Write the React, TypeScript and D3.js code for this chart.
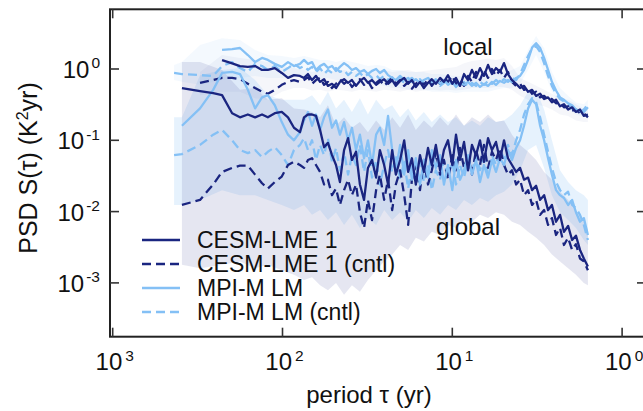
import React from "react";
import * as d3 from "d3";

// period grid (yr)
const periods = [
  435, 391, 306, 256, 227, 198, 178, 160, 145, 132, 122, 111, 101, 92.8, 85.6, 78.9,
  74.7, 70.8, 67.0, 63.5, 60.1, 56.9, 54.0, 51.1, 48.4, 45.9,
  43.4, 41.1, 39.0, 36.9, 35.0, 33.1, 31.4, 29.7, 28.1, 26.7,
  25.2, 23.9, 22.6, 21.5, 20.3, 19.2, 18.2, 17.3, 16.4, 15.5,
  14.7, 13.9, 13.2, 12.5, 11.8, 11.2, 10.6, 10.0, 9.51, 9.01,
  8.53, 8.08, 7.66, 7.25, 6.87, 6.51, 6.16, 5.84, 5.53, 5.24,
  4.96, 4.70, 4.45, 4.21, 3.99, 3.78, 3.58, 3.39, 3.21, 3.04,
  2.88, 2.73, 2.59, 2.45, 2.32, 2.20, 2.08, 1.97, 1.87, 1.77,
  1.68, 1.59,
];

const cesmLocal = [
  null, null, null, null, 1.33, 1.2, 1.1, 1.07, 1.1, 0.97, 0.97, 1.03, 0.88, 0.75, 0.82, 0.8,
  .75, .85, .70, .80, .66, .72, .58, .62, .54, .66,
  .72, .64, .70, .58, .68, .75, .64, .70, .60, .66,
  .72, .62, .70, .58, .68, .75, .62, .70, .56, .66,
  .54, .64, .72, .62, .75, .66, .82, .62, .75, .58,
  .85, .70, .97, .75, 1.03, .80, 1.14, .85, 1.03, .91,
  1.21, .85, .70, .62, .54, .58, .48, .51, .42, .45,
  .38, .40, .34, .37, .30, .32, .27, .29, .25, .27,
  .22, .23,
];

const cesmLocalCntl = [
  null, null, .64, .70, .75, .75, .72, .62, .54, .48, .45, .51, .60, .66, .70, .66,
  .70, .77, .62, .70, .75, .60, .66, .54, .62, .72,
  .62, .68, .56, .64, .72, .60, .68, .54, .64, .70,
  .58, .66, .75, .62, .70, .58, .66, .53, .62, .70,
  .60, .72, .58, .70, .62, .77, .66, .80, .62, .72,
  .58, .80, .66, .91, .70, .97, .75, 1.0, .80, .97,
  .75, .91, .66, .58, .62, .51, .54, .45, .48, .40,
  .42, .37, .38, .33, .34, .29, .30, .26, .27, .24,
  .24, .21,
];

const mpiLocal = [
  null, null, null, null, 1.85, 1.9, 1.97, 1.57, 1.25, 1.43, 1.34, 1.18, 1.07, 1.25, 1.10, 1.18,
  1.34, 1.18, 1.25, .97, 1.10, 1.18, 1.03, 1.10, .94, 1.07,
  1.21, 1.10, .97, 1.03, .91, .97, .85, .94, 1.0, .88,
  .97, .82, .75, .70, .80, .70, .75, .66, .72, .64,
  .70, .75, .66, .72, .62, .70, .60, .66, .56, .64,
  .60, .66, .58, .64, .56, .62, .58, .66, .60, .68,
  .64, .70, .66, .75, .80, .97, 1.34, 2.0, 2.3, 1.97,
  1.43, .97, .66, .50, .40, .37, .33, .31, .27, .26,
  .25, .29,
];

const mpiLocalCntl = [
  .88, .85, .82, .80, 1.10, 1.25, 1.03, .91, 1.18, 1.10, .97, 1.10, .91, 1.03, 1.18, 1.03,
  1.10, .97, 1.07, .91, 1.03, .85, .97, .88, 1.03, .91,
  .97, .82, .91, .80, .88, .77, .85, .75, .82, .72,
  .80, .70, .77, .66, .72, .64, .70, .75, .66, .72,
  .62, .68, .60, .66, .58, .64, .70, .62, .68, .58,
  .66, .56, .64, .58, .66, .60, .68, .62, .70, .64,
  .72, .66, .75, .70, .85, 1.14, 1.52, 1.97, 2.1, 1.73,
  1.21, .80, .58, .45, .38, .35, .32, .28, .27, .25,
  .27, .32,
];

const cesmGlobal = [
  null, .54, .49, .46, .43, .24, .21, .23, .21, .23, .21, .24, .25, .21, .15, .13,
  .21, .23, .23, .22, .14, .080, .092, .062, .045, .026,
  .073, .107, .053, .069, .024, .0146, .041, .053, .030, .073,
  .045, .024, .073, .033, .053, .10, .036, .056, .024, .062,
  .036, .078, .045, .086, .038, .073, .10, .045, .12, .053,
  .095, .038, .086, .062, .10, .050, .107, .073, .095, .053,
  .10, .056, .045, .036, .041, .028, .030, .020, .023, .0146,
  .017, .0105, .0124, .0072, .009, .0052, .0063, .004, .0046, .0029,
  .0022, .0017,
];

const cesmGlobalCntl = [
  null, .0124, .0146, .024, .036, .041, .044, .044, .033, .025, .021, .026, .031, .045, .050, .045,
  .041, .053, .056, .045, .036, .024, .028, .017, .021, .0124,
  .020, .028, .017, .024, .0098, .0059, .0146, .0076, .020, .033,
  .0146, .028, .0105, .024, .038, .017, .0065, .028, .045, .020,
  .053, .024, .038, .069, .033, .053, .028, .062, .038, .078,
  .041, .062, .033, .073, .045, .086, .041, .069, .053, .078,
  .045, .033, .038, .024, .028, .017, .020, .0124, .0146, .009,
  .0105, .0065, .0081, .0047, .0059, .0034, .0043, .0029, .0035, .0022,
  .0020, .0015,
];

const mpiGlobal = [
  null, .16, .28, .51, .88, .91, .85, .51, .28, .40, .43, .31, .18, .12, .10, .13,
  .19, .25, .16, .23, .14, .21, .27, .15, .19, .12,
  .18, .10, .15, .073, .12, .056, .10, .045, .12, .15,
  .086, .22, .073, .038, .086, .033, .073, .028, .056, .024,
  .053, .030, .073, .041, .062, .024, .045, .020, .053, .028,
  .038, .062, .033, .053, .026, .045, .030, .053, .036, .056,
  .045, .073, .053, .078, .10, .16, .28, .37, .32, .16,
  .10, .056, .033, .020, .017, .0155, .0124, .0146, .0098, .0072,
  .0081, .0047,
];

const mpiGlobalCntl = [
  .062, .064, .086, .12, .14, .10, .073, .066, .073, .058, .069, .080, .062, .045, .073, .086,
  .107, .073, .10, .053, .086, .062, .107, .050, .078, .038,
  .069, .033, .062, .045, .086, .036, .073, .030, .053, .024,
  .045, .073, .036, .062, .028, .050, .021, .045, .030, .056,
  .026, .045, .020, .038, .028, .053, .030, .050, .024, .045,
  .030, .053, .036, .062, .038, .056, .033, .062, .045, .073,
  .056, .086, .062, .10, .14, .23, .32, .39, .34, .21,
  .12, .069, .041, .026, .020, .017, .019, .0124, .0112, .009,
  .0065, .004,
];

// ensemble spread bands
const bandPeriods = [
  435, 391, 306, 227, 178, 145, 122, 101, 85.6,
  74.7, 67.0, 60.1, 54.0, 48.4, 43.4, 39.0, 35.0, 31.4, 28.1,
  25.2, 22.6, 20.3, 18.2, 16.4, 14.7, 13.2, 11.8, 10.6, 9.51,
  8.53, 7.66, 6.87, 6.16, 5.53, 4.96, 4.45, 3.99, 3.58, 3.21,
  2.88, 2.59, 2.32, 2.08, 1.87, 1.68, 1.59,
];

const cesmGlobalBandHi = [
  null, 1.25, 1.25, .97, .51, .54, .37, .39, .28,
  .27, .25, .21, .31, .16, .21, .15, .18, .13, .19,
  .14, .21, .15, .23, .14, .19, .15, .21, .16, .23,
  .16, .21, .18, .23, .18, .19, .12, .086, .069, .053,
  .036, .028, .019, .0146, .0105, .0072, .0055,
];
const cesmGlobalBandLo = [
  null, .0018, .0016, .0018, .0020, .0016, .0018, .0015, .0013,
  .0011, .0012, .00093, .00079, .0010, .00068, .00093, .00075, .0011, .0015,
  .0020, .0025, .0034, .0029, .0043, .0038, .0052, .0047, .0065, .0059,
  .0076, .0072, .009, .0081, .0098, .009, .0072, .0065, .0052, .0043,
  .0034, .0025, .0020, .0016, .0013, .0010, .00093,
];

const mpiGlobalBandHi = [
  .21, .21, .82, .97, 1.03, .70, .43, .37, .37,
  .37, .43, .31, .48, .28, .37, .25, .39, .23, .37,
  .27, .31, .21, .28, .19, .25, .18, .23, .18, .21,
  .16, .19, .16, .21, .18, .19, .23, .31, .48, .51,
  .27, .10, .038, .026, .020, .017, .0146,
];
const mpiGlobalBandLo = [
  .0124, .0124, .0146, .020, .017, .017, .0146, .0124, .0105,
  .0124, .009, .0105, .0076, .0098, .0065, .009, .0059, .0081, .0065,
  .0105, .0076, .0098, .0072, .0105, .0081, .0112, .009, .0124, .0105,
  .0146, .0124, .0155, .0137, .017, .019, .024, .038, .073, .086,
  .041, .017, .0098, .0076, .0059, .0040, .0034,
];

const mpiLocalBandHi = [
  1.14, 1.25, 2.17, 2.7, 2.55, 1.85, 1.57, 1.52, 1.43,
  1.52, 1.43, 1.34, 1.34, 1.25, 1.34, 1.25, 1.18, 1.10, 1.14,
  1.10, .97, .97, .91, .91, .91, .85, .85, .82, .80,
  .80, .80, .80, .80, .85, .91, .97, 1.10, 1.85, 2.9,
  1.97, .91, .54, .42, .34, .32, .37,
];
const mpiLocalBandLo = [
  .70, .66, .60, .70, .75, .80, .75, .75, .80,
  .80, .75, .70, .75, .70, .70, .66, .66, .62, .62,
  .58, .54, .54, .51, .51, .51, .48, .48, .48, .46,
  .48, .48, .48, .48, .51, .54, .54, .62, .97, 1.57,
  .91, .48, .32, .27, .23, .21, .23,
];

const cesmLocalBandHi = [
  null, null, .91, 1.57, 1.43, 1.34, 1.25, 1.10, 1.03,
  .97, .91, .97, .91, .94, .97, .91, .97, .91, .94,
  .97, .91, .94, .97, .91, .94, .97, 1.0, 1.03, 1.07,
  1.2, 1.3, 1.34, 1.4, 1.34, 1.43, 1.1, .75, .66, .58,
  .51, .45, .39, .37, .32, .28, .28,
];
const cesmLocalBandLo = [
  null, null, .43, .48, .48, .39, .37, .48, .54,
  .54, .50, .51, .48, .51, .50, .48, .51, .50, .48,
  .51, .50, .48, .51, .48, .50, .51, .50, .51, .50,
  .51, .54, .54, .54, .56, .56, .51, .42, .37, .32,
  .30, .27, .23, .22, .19, .18, .18,
];

const xTickExps = [3, 2, 1, 0];
const yTickExps = [0, -1, -2, -3];
const legendLabels = ["CESM-LME 1", "CESM-LME 1 (cntl)", "MPI-M LM", "MPI-M LM (cntl)"];
const regionLabels = ["local", "global"];

const DARK = "#1a2580";
const LIGHT = "#84c0f5";
const FONT = "'Liberation Sans', Arial, sans-serif";

const W = 643;
const H = 411;
const L = 110;
const R = 646;
const T = 9.3;
const B = 336.7;

export default function App() {
  const x = d3.scaleLog().domain([Math.pow(10, 3.0159), Math.pow(10, -0.1407)]).range([L, R]);
  const y = d3.scaleLog().domain([Math.pow(10, -3.7546), Math.pow(10, 0.8373)]).range([B, T]);

  const mkLine = (vals: (number | null)[]) =>
    d3
      .line<number | null>()
      .defined((v) => v != null)
      .x((_, i) => x(periods[i]))
      .y((v) => y(v as number))(vals) || "";

  const mkBand = (hi: (number | null)[], lo: (number | null)[]) =>
    d3
      .area<number>()
      .defined((i) => hi[i] != null && lo[i] != null)
      .x((i) => x(bandPeriods[i]))
      .y0((i) => y(lo[i] as number))
      .y1((i) => y(hi[i] as number))(d3.range(bandPeriods.length)) || "";

  const bands = [
    { hi: mpiLocalBandHi, lo: mpiLocalBandLo, fill: LIGHT, op: 0.09 },
    { hi: cesmLocalBandHi, lo: cesmLocalBandLo, fill: "#5c63a8", op: 0.06 },
    { hi: mpiGlobalBandHi, lo: mpiGlobalBandLo, fill: LIGHT, op: 0.2 },
    { hi: cesmGlobalBandHi, lo: cesmGlobalBandLo, fill: "#5c63a8", op: 0.16 },
  ];

  const series = [
    { v: mpiGlobalCntl, c: LIGHT, dash: "9,5" },
    { v: mpiLocalCntl, c: LIGHT, dash: "9,5" },
    { v: cesmGlobalCntl, c: DARK, dash: "9,5" },
    { v: cesmLocalCntl, c: DARK, dash: "9,5" },
    { v: mpiGlobal, c: LIGHT, dash: null },
    { v: mpiLocal, c: LIGHT, dash: null },
    { v: cesmGlobal, c: DARK, dash: null },
    { v: cesmLocal, c: DARK, dash: null },
  ];

  const legend = [
    { c: DARK, dash: null },
    { c: DARK, dash: "9,5" },
    { c: LIGHT, dash: null },
    { c: LIGHT, dash: "9,5" },
  ];
  const legendY = [240, 264, 288, 312];
  const FS = 24;

  return (
    <svg
      width={W}
      height={H}
      style={{ position: "fixed", left: 0, top: 0, background: "#fff" }}
      fontFamily={FONT}
    >
      <defs>
        <clipPath id="plot">
          <rect x={L} y={T} width={R - L} height={B - T} />
        </clipPath>
      </defs>
      <g clipPath="url(#plot)">
        {bands.map((b, i) => (
          <path key={"b" + i} d={mkBand(b.hi, b.lo)} fill={b.fill} fillOpacity={b.op} stroke="none" />
        ))}
        {series.map((s, i) => (
          <path
            key={"s" + i}
            d={mkLine(s.v)}
            fill="none"
            stroke={s.c}
            strokeWidth={2.3}
            strokeLinejoin="round"
            strokeDasharray={s.dash || undefined}
          />
        ))}
      </g>

      {/* frame */}
      <rect x={L} y={T} width={R - L} height={B - T} fill="none" stroke="#222" strokeWidth={2} />

      {/* x ticks */}
      {xTickExps.map((e) => {
        const px = x(Math.pow(10, e));
        return (
          <g key={"xt" + e}>
            <line x1={px} x2={px} y1={B} y2={B - 9} stroke="#333" strokeWidth={1.6} />
            <line x1={px} x2={px} y1={T} y2={T + 9} stroke="#333" strokeWidth={1.6} />
            <text x={px + 2} y={370} textAnchor="middle" fontSize={FS} fill="#111">
              10
              <tspan fontSize={15.5} dx={3} dy={-9.5}>
                {String(e)}
              </tspan>
            </text>
          </g>
        );
      })}

      {/* y ticks */}
      {yTickExps.map((e) => {
        const py = y(Math.pow(10, e));
        return (
          <g key={"yt" + e}>
            <line x1={L} x2={L + 9} y1={py} y2={py} stroke="#333" strokeWidth={1.6} />
            <line x1={R} x2={R - 9} y1={py} y2={py} stroke="#333" strokeWidth={1.6} />
            <text x={100} y={py + 9} textAnchor="end" fontSize={FS} fill="#111">
              10
              <tspan fontSize={15.5} dx={2} dy={-9.5}>
                {e === 0 ? "0" : "-" + String(-e)}
              </tspan>
            </text>
          </g>
        );
      })}

      {/* axis labels */}
      <text x={369} y={403} textAnchor="middle" fontSize={FS} fill="#111">
        period τ (yr)
      </text>
      <text
        transform="translate(37,168) rotate(-90)"
        textAnchor="middle"
        fontSize={25}
        fill="#111"
      >
        PSD S(τ) (K
        <tspan fontSize={16} dy={-9.5}>
          2
        </tspan>
        <tspan dy={9.5}>yr)</tspan>
      </text>

      {/* region labels */}
      <text x={468} y={55} textAnchor="middle" fontSize={FS} fill="#111">
        {regionLabels[0]}
      </text>
      <text x={468} y={235} textAnchor="middle" fontSize={FS} fill="#111">
        {regionLabels[1]}
      </text>

      {/* legend */}
      {legendLabels.map((lab, i) => (
        <g key={"lg" + i}>
          <line
            x1={142}
            x2={180}
            y1={legendY[i]}
            y2={legendY[i]}
            stroke={legend[i].c}
            strokeWidth={2.6}
            strokeDasharray={legend[i].dash || undefined}
          />
          <text x={197} y={legendY[i] + 8} fontSize={23} fill="#111">
            {lab}
          </text>
        </g>
      ))}
    </svg>
  );
}
